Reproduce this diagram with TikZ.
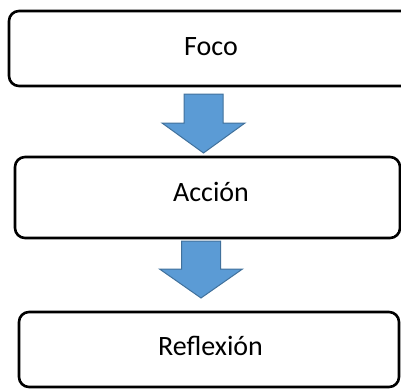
\documentclass[tikz,border=0pt]{standalone}
\usepackage{fontspec}
\setmainfont{Carlito}
\definecolor{arrowfill}{HTML}{5B9BD5}
\definecolor{arrowedge}{HTML}{41719C}
\begin{document}
\begin{tikzpicture}[%
                x=1pt, y=-1pt,
                mybox/.style={draw=black, line width=2.6pt, rounded corners=10pt, inner sep=0pt},
                mytext/.style={font=\fontsize{28}{34}\selectfont, anchor=base, inner sep=0pt},
                myarrow/.style={draw=arrowedge, line width=1pt, fill=arrowfill, line join=miter}
            ]
            \path [use as bounding box, clip] (0,0) rectangle (401,388);
            \node [mybox, minimum width=404pt, minimum height=75pt] (foco) at (211,48.5) {};
            \node [mybox, minimum width=385pt, minimum height=81pt] (accion) at (207.5,197.5) {};
            \node [mybox, minimum width=380pt, minimum height=75pt] (reflexion) at (209,349.5) {};
            \node [mytext] (foco-t) at (211,55) {Foco};
            \node [mytext] (accion-t) at (211,201.7) {Acción};
            \node [mytext] (reflexion-t) at (210.5,355) {Reflexión};
            \foreach \x/\ytop/\ybase/\ytip in {203.5/94/123/153, 201/241/269/298}
                \draw [myarrow] (\x-19.5,\ytop) -- (\x+19.5,\ytop) -- (\x+19.5,\ybase)
                    -- (\x+41.5,\ybase) -- (\x,\ytip) -- (\x-41.5,\ybase)
                    -- (\x-19.5,\ybase) -- cycle;
        \end{tikzpicture}
\end{document}
